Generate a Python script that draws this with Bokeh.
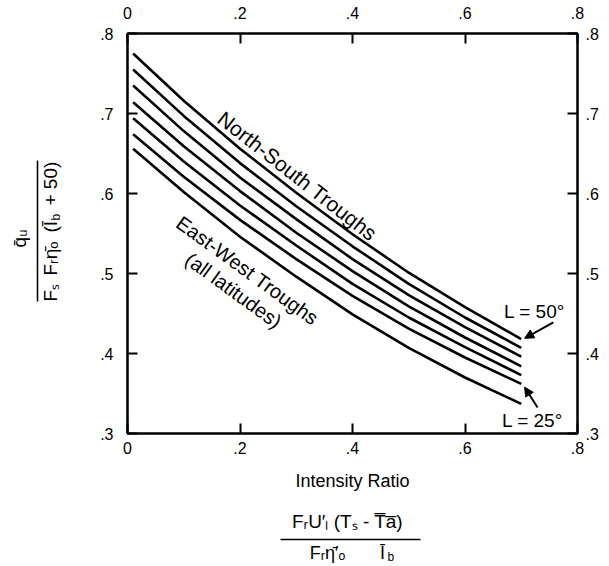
import math
from bokeh.plotting import figure
from bokeh.layouts import row, column
from bokeh.models import (LinearAxis, Range1d, FixedTicker, CustomJSTickFormatter,
                          Label, Arrow, NormalHead)
from bokeh.embed import file_html
from bokeh.resources import INLINE

# ---- data ----
intensity_ratio = [0.01, 0.1, 0.2, 0.3, 0.4, 0.5, 0.6, 0.7]
ns_L50 = [0.775, 0.716, 0.656, 0.601, 0.549, 0.501, 0.458, 0.418]
ns_L45 = [0.755, 0.697, 0.638, 0.584, 0.534, 0.487, 0.445, 0.407]
ns_L40 = [0.735, 0.678, 0.620, 0.568, 0.518, 0.473, 0.433, 0.396]
ns_L35 = [0.714, 0.659, 0.603, 0.551, 0.503, 0.459, 0.420, 0.384]
ns_L30 = [0.694, 0.640, 0.585, 0.535, 0.487, 0.445, 0.408, 0.373]
ns_L25 = [0.674, 0.621, 0.567, 0.518, 0.472, 0.431, 0.395, 0.362]
ew_all = [0.656, 0.602, 0.546, 0.496, 0.449, 0.407, 0.370, 0.337]
series = [ns_L50, ns_L45, ns_L40, ns_L35, ns_L30, ns_L25, ew_all]

x_ticks = [0, 0.2, 0.4, 0.6, 0.8]
y_ticks = [0.3, 0.4, 0.5, 0.6, 0.7, 0.8]

FONT = "Liberation Sans"

# ---------------- main chart ----------------
p = figure(width=539, height=500, x_range=Range1d(0, 0.8), y_range=Range1d(0.3, 0.8),
           output_backend="svg", toolbar_location=None,
           x_axis_location=None, y_axis_location=None,
           min_border_left=57, min_border_right=32, min_border_top=33,
           min_border_bottom=67)
p.grid.grid_line_color = None
p.outline_line_color = "black"
p.outline_line_width = 2

fmt_code = "return tick == 0 ? '0' : tick.toFixed(1).replace(/^0/, '');"


def make_axis(ticks, standoff):
    return LinearAxis(
        ticker=FixedTicker(ticks=ticks),
        formatter=CustomJSTickFormatter(code=fmt_code),
        major_tick_in=10, major_tick_out=0,
        major_tick_line_width=2, major_tick_line_color="black",
        minor_tick_line_color=None,
        axis_line_width=2, axis_line_color="black",
        major_label_text_font=FONT, major_label_text_font_size="16px",
        major_label_text_color="black", major_label_standoff=standoff)


bottom = make_axis(x_ticks, 8)
bottom.axis_label = "Intensity Ratio"
bottom.axis_label_text_font = FONT
bottom.axis_label_text_font_size = "18px"
bottom.axis_label_text_font_style = "normal"
bottom.axis_label_text_color = "black"
bottom.axis_label_standoff = 14
p.add_layout(bottom, "below")
p.add_layout(make_axis(x_ticks, 15), "above")
p.add_layout(make_axis(y_ticks, 14), "left")
p.add_layout(make_axis(y_ticks, 8), "right")

for s in series:
    p.line(intensity_ratio, s, line_width=2.6, line_color="black")


def lab(fig, x, y, text, size, angle=0.0, align="center", baseline="middle"):
    fig.add_layout(Label(x=x, y=y, text=text, angle=angle, text_align=align,
                         text_baseline=baseline, text_font=FONT,
                         text_font_size=size, text_color="black"))


lab(p, 0.302, 0.622, "North-South Troughs", "21px", math.radians(-38))
lab(p, 0.2133, 0.5038, "East-West Troughs", "20px", math.radians(-36))
lab(p, 0.1884, 0.4788, "(all latitudes)", "20px", math.radians(-36))
lab(p, 0.7236, 0.4525, "L = 50°", "19px")
lab(p, 0.72, 0.3163, "L = 25°", "19px")

p.add_layout(Arrow(end=NormalHead(size=9, fill_color="black", line_color="black"),
                   x_start=0.757, y_start=0.439, x_end=0.706, y_end=0.419,
                   line_width=2, line_color="black"))
p.add_layout(Arrow(end=NormalHead(size=9, fill_color="black", line_color="black"),
                   x_start=0.729, y_start=0.3325, x_end=0.706, y_end=0.358,
                   line_width=2, line_color="black"))


# ---------------- helper panels for the fraction labels ----------------
def aux(w, h, top=0, bottom_b=0, yspan=None):
    ys = yspan if yspan is not None else h
    f = figure(width=w, height=h, x_range=Range1d(0, w), y_range=Range1d(0, ys),
               output_backend="svg", toolbar_location=None,
               x_axis_location=None, y_axis_location=None,
               min_border_left=0, min_border_right=0,
               min_border_top=top, min_border_bottom=bottom_b)
    f.outline_line_color = None
    f.grid.grid_line_color = None
    return f


# left panel: frame spans screen y 33..433, data y = 433 - screen_y
left = aux(70, 500, top=33, bottom_b=67, yspan=400)
R = math.pi / 2
lab(left, 19, 433 - 238, "q\u0304\u1d64", "19px", R)
left.add_layout(Arrow(end=None, start=None, x_start=37, y_start=433 - 301,
                      x_end=37, y_end=433 - 160, line_width=1.6, line_color="black"))
lab(left, 50, 433 - 301, "F\u209b", "19px", R, align="left")
lab(left, 50, 433 - 275, "F\u1d63\u03b7\u0304\u2092", "19px", R, align="left")
lab(left, 50, 433 - 232, "(I\u0304", "19px", R, align="left")
lab(left, 55, 433 - 220, "b", "12px", R, align="left")
lab(left, 50, 433 - 205, "+ 50)", "19px", R, align="left")

# bottom panel: data y = 566 - screen_y
bot = aux(609, 66)
lab(bot, 347, 45, "F\u1d63U\u2032\u2097 (T\u209b - T\u0305a\u0305)", "19px")
bot.add_layout(Arrow(end=None, start=None, x_start=280, y_start=27, x_end=420, y_end=27,
                     line_width=1.6, line_color="black"))
lab(bot, 327, 14, "F\u1d63\u03b7\u0304\u2032\u2092", "18px")
lab(bot, 382, 14, "I\u0304", "18px")
lab(bot, 387, 10, "b", "12px", align="left")

layout = column(row(left, p), bot)
open("out.html", "w").write(file_html(layout, INLINE))
